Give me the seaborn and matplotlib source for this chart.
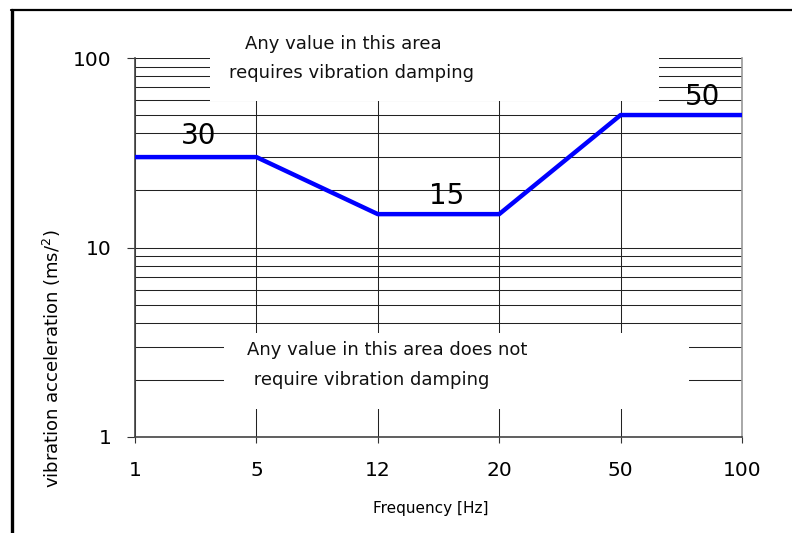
import numpy as np
import pandas as pd
import matplotlib
matplotlib.use("Agg")
import matplotlib.pyplot as plt
import seaborn as sns
from matplotlib.patches import Rectangle
from matplotlib.lines import Line2D
from matplotlib.ticker import LogLocator, NullFormatter, FixedLocator

# Data
freq_labels = ["1", "5", "12", "20", "50", "100"]
accel_limit = [30, 30, 15, 15, 50, 50]
value_labels = ["30", "15", "50"]
value_levels = [30, 15, 50]
top_note = ["Any value in this area", "requires vibration damping"]
bottom_note = ["Any value in this area does not", " require vibration damping"]

df = pd.DataFrame({"pos": np.arange(len(freq_labels)), "accel": accel_limit})

sns.set_style("white")
plt.rcParams["font.family"] = ["DejaVu Sans"]
plt.rcParams["text.color"] = "black"
plt.rcParams["axes.labelcolor"] = "black"
plt.rcParams["xtick.labelcolor"] = "black"
plt.rcParams["ytick.labelcolor"] = "black"

fig = plt.figure(figsize=(7.92, 5.33), dpi=100)
ax = fig.add_axes([135/792, 1-437/533, (742-135)/792, (437-58)/533])

sns.lineplot(data=df, x="pos", y="accel", color="#0000ff", linewidth=3.2, ax=ax, zorder=4)

ax.set_yscale("log")
ax.set_ylim(1, 100)
ax.set_xlim(0, len(freq_labels)-1)
ax.set_xticks(df["pos"])
ax.set_xticklabels(freq_labels)
ax.yaxis.set_major_locator(FixedLocator([1, 10, 100]))
ax.set_yticklabels(["1", "10", "100"])
ax.yaxis.set_minor_locator(LogLocator(base=10, subs=np.arange(2, 10)))
ax.yaxis.set_minor_formatter(NullFormatter())

# grid
ax.grid(True, axis="y", which="both", color="#222222", linewidth=0.75)
ax.grid(True, axis="x", which="major", color="#222222", linewidth=0.75)
ax.set_axisbelow(True)

ax.tick_params(axis="y", which="major", direction="out", length=5.8, width=0.8,
               color="#333333", pad=11, labelsize=14.5, left=True)
ax.tick_params(axis="y", which="minor", length=0)
ax.tick_params(axis="x", direction="out", length=4.3, width=0.8,
               color="#333333", pad=13, labelsize=14.5, bottom=True)

for s in ["left", "bottom"]:
    ax.spines[s].set_color("#444444")
    ax.spines[s].set_linewidth(1.2)
ax.spines["right"].set_color("#999999")
ax.spines["right"].set_linewidth(1.2)
ax.spines["top"].set_visible(False)

# white boxes hiding grid behind the notes
ax.add_patch(Rectangle((0.124, 0.887), 0.739, 0.2, transform=ax.transAxes,
                       facecolor="white", edgecolor="none", zorder=1.5, clip_on=False))
ax.add_patch(Rectangle((0.147, 0.074), 0.766, 0.2, transform=ax.transAxes,
                       facecolor="white", edgecolor="none", zorder=1.5))

note_kw = dict(transform=ax.transAxes, ha="center", va="center",
               fontsize=13, color="#111111", zorder=5)
ax.text(0.344, 1.037, top_note[0], **note_kw)
ax.text(0.357, 0.96, top_note[1], **note_kw)
ax.text(0.415, 0.229, bottom_note[0], **note_kw)
ax.text(0.385, 0.15, bottom_note[1], **note_kw)

# value labels above the flat segments
seg_mid = [0.5, 2.5, 4.5]
x_shift = [2, 6, 15]
y_shift = [15, 13, 13]
for lab, lvl, xm, dx, dy in zip(value_labels, value_levels, seg_mid, x_shift, y_shift):
    ax.annotate(lab, (xm, lvl), xytext=(dx, dy), textcoords="offset points",
                ha="center", va="center", fontsize=20, color="black", zorder=5)

ax.set_xlabel("Frequency [Hz]", fontsize=11)
ax.xaxis.set_label_coords(0.488, -0.169)
ax.set_ylabel("vibration acceleration (ms/$^2$)", fontsize=13)
ax.yaxis.set_label_coords(-0.118, 0.206)

# outer frame
fig.add_artist(Line2D([12/792, 12/792], [0, 1-10/533], color="black", linewidth=2.4,
                      transform=fig.transFigure))
fig.add_artist(Line2D([11/792, 1], [1-10/533, 1-10/533], color="black", linewidth=1.6,
                      transform=fig.transFigure))

fig.savefig("out.png", dpi=100)
